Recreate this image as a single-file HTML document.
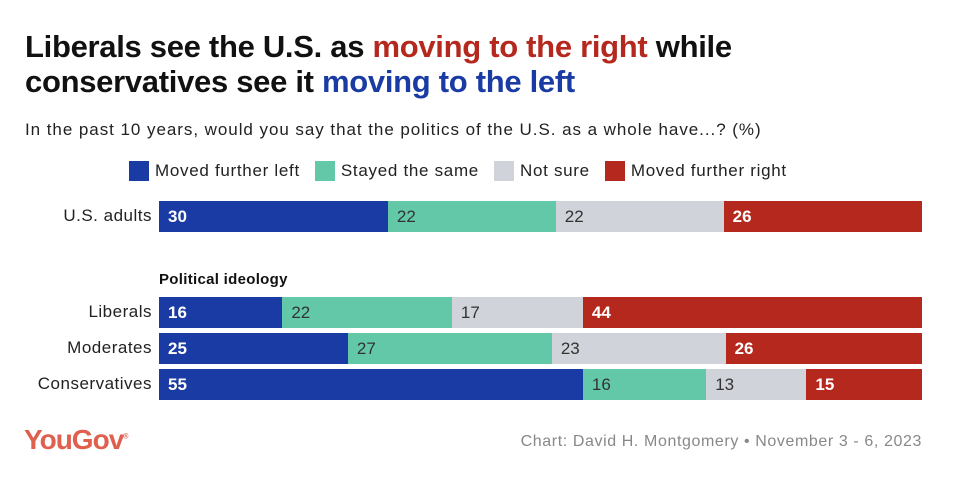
<!DOCTYPE html>
<html><head><meta charset="utf-8">
<style>
body{margin:0;width:964px;height:478px;background:#fff;font-family:"Liberation Sans",sans-serif;overflow:hidden;position:relative}
.t{position:absolute;left:25px;font-weight:bold;font-size:31px;color:#111;letter-spacing:-0.3px;line-height:36px}
.abs{position:absolute}
</style></head>
<body>
<div class="t" style="top:29px">Liberals see the U.S. as <span style="color:#b5281e">moving to the right</span> while</div>
<div class="t" style="top:64px">conservatives see it <span style="color:#1a3ba3">moving to the left</span></div>
<div class="abs" style="left:25px;top:120px;font-size:17px;letter-spacing:0.95px;color:#222">In the past 10 years, would you say that the politics of the U.S. as a whole have...? (%)</div>
<div id="legend" class="abs" style="left:129px;top:161px;height:20px;font-size:17px;letter-spacing:0.7px;color:#222;display:flex;gap:0"></div>
<div class="abs" style="left:159px;top:271px;font-size:15px;letter-spacing:0.3px;font-weight:bold;color:#111">Political ideology</div>
<div id="chart"></div>
<div class="abs" style="left:24px;top:424px;font-size:28px;font-weight:bold;color:#e0604f;letter-spacing:-1px">YouGov<sup style="font-size:7px">®</sup></div>
<div class="abs" style="right:42px;top:433px;font-size:16px;letter-spacing:0.6px;color:#888">Chart: David H. Montgomery • November 3 - 6, 2023</div>
<script>
const categories=["U.S. adults","Liberals","Moderates","Conservatives"];
const seriesNames=["Moved further left","Stayed the same","Not sure","Moved further right"];
const left=[30,16,25,55];
const same=[22,22,27,16];
const notsure=[22,17,23,13];
const right=[26,44,26,15];
const colors=["#1a3ba3","#62c8a8","#d0d3da","#b5281e"];
const textColors=["#fff","#333","#333","#fff"];
const rowTops=[201,297,333,369];
const x0=159,W=763,H=31;
const series=[left,same,notsure,right];
const lg=document.getElementById('legend');
seriesNames.forEach((n,i)=>{
  const e=document.createElement('div');
  
  
  e.style.cssText='display:flex;align-items:center;margin-right:15px';
  e.innerHTML='<span style="display:inline-block;width:20px;height:20px;background:'+colors[i]+';margin-right:6px"></span>'+n;
  lg.appendChild(e);
});
const ch=document.getElementById('chart');
categories.forEach((c,r)=>{
  const lab=document.createElement('div');
  
  
  lab.className='abs';
  lab.style.cssText='right:'+(964-152)+'px;top:'+(rowTops[r]+5)+'px;font-size:17px;letter-spacing:0.5px;color:#222;white-space:nowrap';
  lab.textContent=c;ch.appendChild(lab);
  const tot=series.reduce((s,a)=>s+a[r],0);
  let x=x0;
  series.forEach((a,i)=>{
    const w=a[r]/tot*W;
    const b=document.createElement('div');
    
    
    b.className='abs';
    b.style.cssText='left:'+x+'px;top:'+rowTops[r]+'px;width:'+w+'px;height:'+H+'px;background:'+colors[i]+';color:'+textColors[i]+';font-size:17px;line-height:'+H+'px;padding-left:9px;box-sizing:border-box;'+(i==0||i==3?'font-weight:bold':'');
    b.textContent=a[r];ch.appendChild(b);
    x+=w;
  });
});
</script>
</body></html>
